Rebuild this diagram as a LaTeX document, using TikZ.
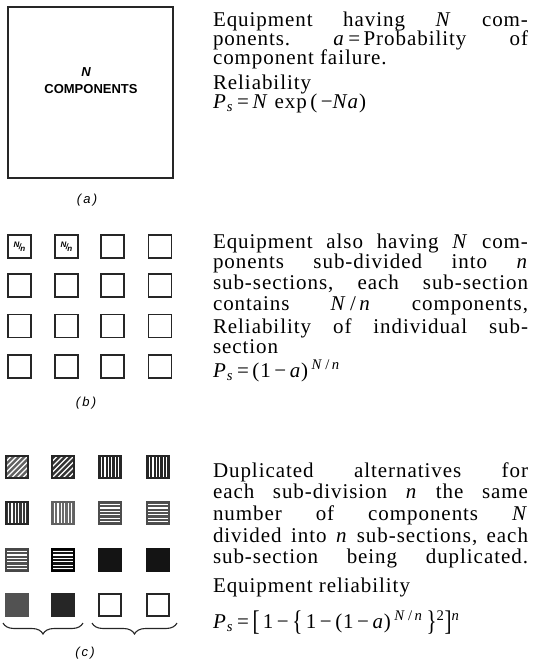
\documentclass[tikz,border=0pt]{standalone}
\usepackage{fontspec}
\setmainfont{Liberation Serif}[LetterSpace=4.5]
\newfontfamily\labfont{Liberation Sans}
\usetikzlibrary{decorations.pathreplacing}
\tikzset{
  txt/.style={anchor=base west, inner sep=0pt, outer sep=0pt, font=\fontsize{21}{21}\selectfont},
  bigbox/.style={draw=black!85, line width=1.1pt, minimum width=165pt, minimum height=171pt, inner sep=0pt},
  lab/.style={inner sep=0pt, font=\labfont\bfseries\fontsize{13}{13}\selectfont},
  caplab/.style={inner sep=0pt, font=\labfont\itshape\fontsize{13}{13}\selectfont},
  sqb/.style={draw=black!85, line width=1.3pt, minimum size=23pt, inner sep=0pt},
  sqc/.style={draw=black!85, line width=1.2pt, minimum size=22pt, inner sep=0pt},
  nnlab/.style={inner sep=0pt, font=\labfont\itshape\bfseries\fontsize{8}{8}\selectfont},
  hd/.style={fill=#1, path picture={\foreach \d in {-27.5,-22,-16.5,-11,-5.5,0,5.5,11,16.5,22,27.5}
      \draw[white,line width=1.3pt] ([shift={({\d-15},15)}]path picture bounding box.center) -- ++(30,-30);}},
  hv/.style={fill=#1, path picture={\foreach \d in {-8.5,-5.1,-1.7,1.7,5.1,8.5}
      \draw[white,line width=1.2pt] ([shift={(\d,15)}]path picture bounding box.center) -- ++(0,-30);}},
  hh/.style={fill=#1, path picture={\foreach \d in {-8.5,-5.1,-1.7,1.7,5.1,8.5}
      \draw[white,line width=1.2pt] ([shift={(-15,\d)}]path picture bounding box.center) -- ++(30,0);}},
  bracestyle/.style={decorate, decoration={brace, mirror, amplitude=11pt, aspect=0.5}, line width=1.1pt, draw=black!85},
}
\newcommand{\mn}{\,−\,}
\newcommand{\tallb}[1]{\raisebox{-2.5pt}{\scalebox{1}[1.35]{#1}}}
\begin{document}
\begin{tikzpicture}[x=1pt,y=-1pt]
\useasboundingbox (0,0) rectangle (533,669);

% (a)
\node[bigbox] (boxa) at (90.5,92.5) {};
\node[lab, font=\labfont\itshape\bfseries\fontsize{13}{13}\selectfont] (na) at (86,72) {N};
\node[lab] (compa) at (91,89) {COMPONENTS};
\node[caplab] (capa) at (87,200) {(\,a\,)};

\node[txt] (a1) at (213,27) {\hbox to 315pt{Equipment\hfil having\hfil \textit{N}\hfil com-}};
\node[txt] (a2) at (213,46) {\hbox to 315pt{ponents.\hfil \textit{a}\,=\,Probability\hfil of}};
\node[txt] (a3) at (213,65) {component failure.};
\node[txt] (a4) at (213,89) {Reliability};
\node[txt] (a5) at (213,108) {\textit{P}\textsubscript{\textit{s}}\,=\,\textit{N} exp\,(\,−\textit{Na})};

% (b)
\foreach \r/\y in {1/246.5,2/285.5,3/326,4/366.5}
  \foreach \c/\x in {1/19.5,2/66.5,3/112.5,4/160}
    \node[sqb] (b\r\c) at (\x,\y) {};
\node[nnlab] (nn1) at (b11) {\raisebox{1.8pt}{N}\kern-0.6pt/\kern-0.6pt\raisebox{-1.8pt}{n}};
\node[nnlab] (nn2) at (b12) {\raisebox{1.8pt}{N}\kern-0.6pt/\kern-0.6pt\raisebox{-1.8pt}{n}};
\node[caplab] (capb) at (86,403) {(\,b\,)};

\node[txt] (b1) at (213,248) {\hbox to 315pt{Equipment\hfil also\hfil having\hfil \textit{N}\hfil com-}};
\node[txt] (b2) at (213,268.5) {\hbox to 315pt{ponents\hfil sub-divided\hfil into\hfil \textit{n}}};
\node[txt] (b3) at (213,289.5) {\hbox to 315pt{sub-sections,\hfil each\hfil sub-section}};
\node[txt] (b4) at (213,310) {\hbox to 315pt{contains\hfil \textit{N}\,/\,\textit{n}\hfil components,}};
\node[txt] (b5) at (213,333) {\hbox to 315pt{Reliability\hfil of\hfil individual\hfil sub-}};
\node[txt] (b6) at (213,353) {section};
\node[txt] (b7) at (213,377) {\textit{P}\textsubscript{\textit{s}}\,=\,(1\mn\textit{a})\,\textsuperscript{\textit{N}\,/\,\textit{n}}};

% (c)
\node[sqc, hd=black!62] (c11) at (17,467) {};
\node[sqc, hd=black!80] (c12) at (63,467) {};
\node[sqc, hv=black!85] (c13) at (110,467) {};
\node[sqc, hv=black!85] (c14) at (158,467) {};
\node[sqc, hv=black!78] (c21) at (17,513) {};
\node[sqc, hv=black!58, draw=black!62] (c22) at (63,513) {};
\node[sqc, hh=black!68, draw=black!70] (c23) at (110,513) {};
\node[sqc, hh=black!68, draw=black!70] (c24) at (158,513) {};
\node[sqc, hh=black!68, draw=black!72] (c31) at (17,560) {};
\node[sqc, hh=black!92, draw=black, line width=1.6pt] (c32) at (63,560) {};
\node[sqc, fill=black!92, draw=black!92] (c33) at (110,560) {};
\node[sqc, fill=black!92, draw=black!92] (c34) at (158,560) {};
\node[sqc, fill=black!68, draw=black!68] (c41) at (17,605) {};
\node[sqc, fill=black!85, draw=black!85] (c42) at (63,605) {};
\node[sqc] (c43) at (110,605) {};
\node[sqc] (c44) at (158,605) {};

\coordinate (br1s) at (3,623);
\coordinate (br1e) at (83,623);
\coordinate (br2s) at (92,623);
\coordinate (br2e) at (177,623);
\draw[bracestyle] (br1s) -- (br1e);
\draw[bracestyle] (br2s) -- (br2e);
\node[caplab] (capc) at (85,653) {(\,c\,)};

\node[txt] (c1) at (213,477) {\hbox to 315pt{Duplicated\hfil alternatives\hfil for}};
\node[txt] (c2) at (213,498) {\hbox to 315pt{each\hfil sub-division\hfil \textit{n}\hfil the\hfil same}};
\node[txt] (c3) at (213,520) {\hbox to 315pt{number\hfil of\hfil components\hfil \textit{N}}};
\node[txt] (c4) at (213,542) {\hbox to 315pt{divided\hfil into\hfil \textit{n}\hfil sub-sections,\hfil each}};
\node[txt] (c5) at (213,563) {\hbox to 315pt{sub-section\hfil being\hfil duplicated.}};
\node[txt] (c6) at (213,592) {Equipment reliability};
\node[txt] (c7) at (213,628) {\textit{P}\textsubscript{\textit{s}}\,=\,\tallb{[}\,1\mn\tallb{\{}\,1\mn(1\mn\textit{a})\,\textsuperscript{\textit{N}\,/\,\textit{n}}\,\tallb{\}}\textsuperscript{2}\tallb{]}\textsuperscript{\textit{n}}};
\end{tikzpicture}
\end{document}
